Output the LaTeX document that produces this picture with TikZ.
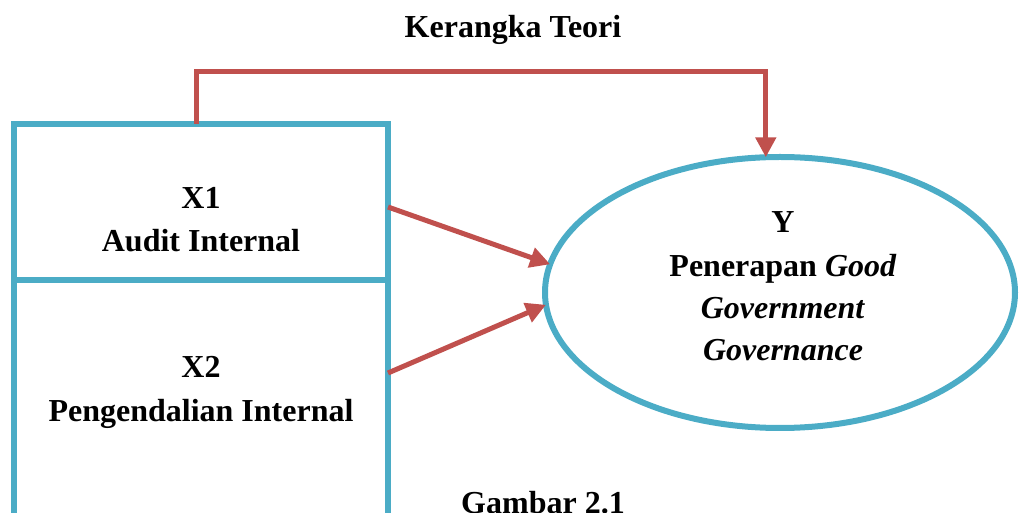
\documentclass[tikz,border=0pt]{standalone}
\usepackage{fontspec}
\setmainfont{Liberation Serif}
\usetikzlibrary{arrows.meta,shapes.geometric,calc}
\definecolor{boxblue}{HTML}{4BACC6}
\definecolor{arrowred}{HTML}{C0504D}
\tikzset{
  varbox/.style={draw=boxblue, line width=3pt, rectangle, inner sep=0pt, outer sep=0pt, anchor=north west, minimum width=187pt},
  yell/.style={draw=boxblue, line width=3pt, ellipse, inner sep=0pt, outer sep=0pt, minimum width=235pt, minimum height=135.5pt},
  lbl/.style={font=\fontsize{16}{20}\selectfont\bfseries, anchor=base, inner sep=0pt},
  link/.style={draw=arrowred, line width=2.5pt, -{Triangle[length=10pt,width=10pt]}}
}
\begin{document}
\begin{tikzpicture}[x=0.5pt,y=-0.5pt]
\useasboundingbox (0,0) rectangle (1019,513);
% boxes
\node[varbox, minimum height=78pt] (x1box) at (14,124) {};
\node[varbox, minimum height=130pt] (x2box) at (14,280) {};
% ellipse
\node[yell] (Y) at (780,292.5) {};
% texts
\node[lbl] (title) at (513,38) {Kerangka Teori};
\node[lbl] (x1a) at (201,209) {X1};
\node[lbl] (x1b) at (201,252) {Audit Internal};
\node[lbl] (x2a) at (201,378) {X2};
\node[lbl] (x2b) at (201,422) {Pengendalian Internal};
\node[lbl] (ya) at (783,233) {Y};
\node[lbl] (yb) at (783,277) {Penerapan \textit{Good}};
\node[lbl] (yc) at (783,319) {\textit{Government}};
\node[lbl] (yd) at (783,361) {\textit{Governance}};
\node[lbl] (cap) at (543,514) {Gambar 2.1};
% connectors
\coordinate (s1) at (196,124);
\coordinate (a1) at (388,207);
\coordinate (a2) at (388,373);
\draw[link] (s1) -- (196,72) -| (Y.96);
\draw[link] (a1) -- (Y.173);
\draw[link] (a2) -- (Y.183);
\end{tikzpicture}
\end{document}
